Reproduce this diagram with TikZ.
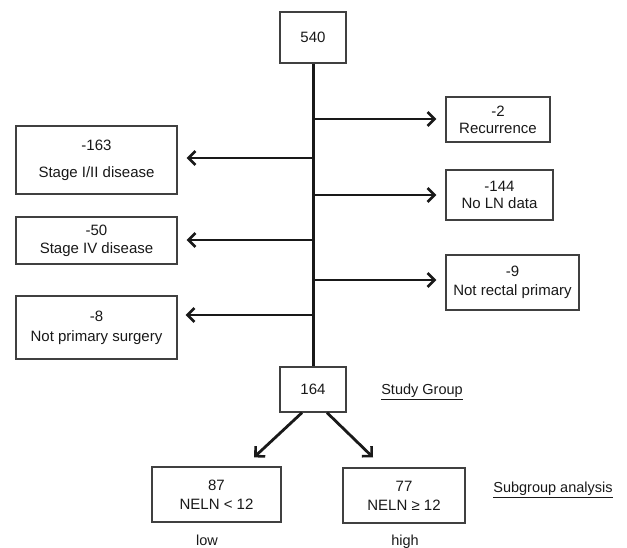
\documentclass[tikz,border=0pt]{standalone}
\usepackage{fontspec}
\setmainfont{Liberation Sans}
\usetikzlibrary{arrows.meta}
\begin{document}
\begin{tikzpicture}[x=1pt,y=-1pt,
  box/.style={draw=black!75,line width=1.3pt,fill=white,align=center,inner sep=0pt,
    font=\fontsize{15}{18}\selectfont,text=black!90},
  trunk/.style={line width=3pt,black!90},
  arr/.style={line width=2.8pt,black!90,-{Straight Barb[length=7pt,width=14pt,line width=2.6pt]}},
  lbl/.style={font=\fontsize{14.5}{17}\selectfont,text=black!90,inner sep=0pt}]
\useasboundingbox (0,0) rectangle (627,548);
\node[box,minimum width=66,minimum height=51] (n540) at (313,37.5) {540};
\node[box,minimum width=66,minimum height=45] (n164) at (313,389.5) {164};
\node[box,minimum width=161,minimum height=68] (s163) at (96.5,160) {-163\\[9pt]Stage I/II disease};
\node[box,minimum width=161,minimum height=47] (s50) at (96.5,240.5) {-50\\Stage IV disease};
\node[box,minimum width=161,minimum height=63] (s8) at (96.5,327.5) {-8\\[2pt]Not primary surgery};
\node[box,minimum width=104,minimum height=45] (r2) at (498,119.5) {-2\\[-1pt]Recurrence};
\node[box,minimum width=107,minimum height=50] (r144) at (499.5,195) {-144\\[-1pt]No LN data};
\node[box,minimum width=133,minimum height=55] (r9) at (512.5,282.5) {-9\\[1pt]Not rectal primary};
\node[box,minimum width=129,minimum height=55] (n87) at (216.5,494.5) {87\\[1pt]NELN < 12};
\node[box,minimum width=122,minimum height=55] (n77) at (404,495.5) {77\\[1pt]NELN ≥ 12};
\draw[trunk] (n540.south) -- (n164.north);
\coordinate (b1) at (313,119);
\coordinate (b2) at (313,158);
\coordinate (b3) at (313,195);
\coordinate (b4) at (313,240);
\coordinate (b5) at (313,280);
\coordinate (b6) at (313,315);
\draw[arr,shorten >=9pt] (b1) -- (b1 -| r2.west);
\draw[arr,shorten >=9pt] (b3) -- (b3 -| r144.west);
\draw[arr,shorten >=9pt] (b5) -- (b5 -| r9.west);
\draw[arr,shorten >=9pt] (b2) -- (b2 -| s163.east);
\draw[arr,shorten >=9pt] (b4) -- (b4 -| s50.east);
\draw[arr,shorten >=8pt] (b6) -- (b6 -| s8.east);
\draw[arr] ([xshift=-11pt]n164.south) -- ([xshift=37.5pt,yshift=9pt]n87.north);
\draw[arr] ([xshift=14pt]n164.south) -- ([xshift=-31pt,yshift=10pt]n77.north);
\node[lbl] (sg) at (422,392) {\underline{Study Group}};
\node[lbl] (sa) at (553,490) {\underline{Subgroup analysis}};
\node[lbl] (lo) at (207,540) {low};
\node[lbl] (hi) at (405,542) {high};
\end{tikzpicture}
\end{document}
